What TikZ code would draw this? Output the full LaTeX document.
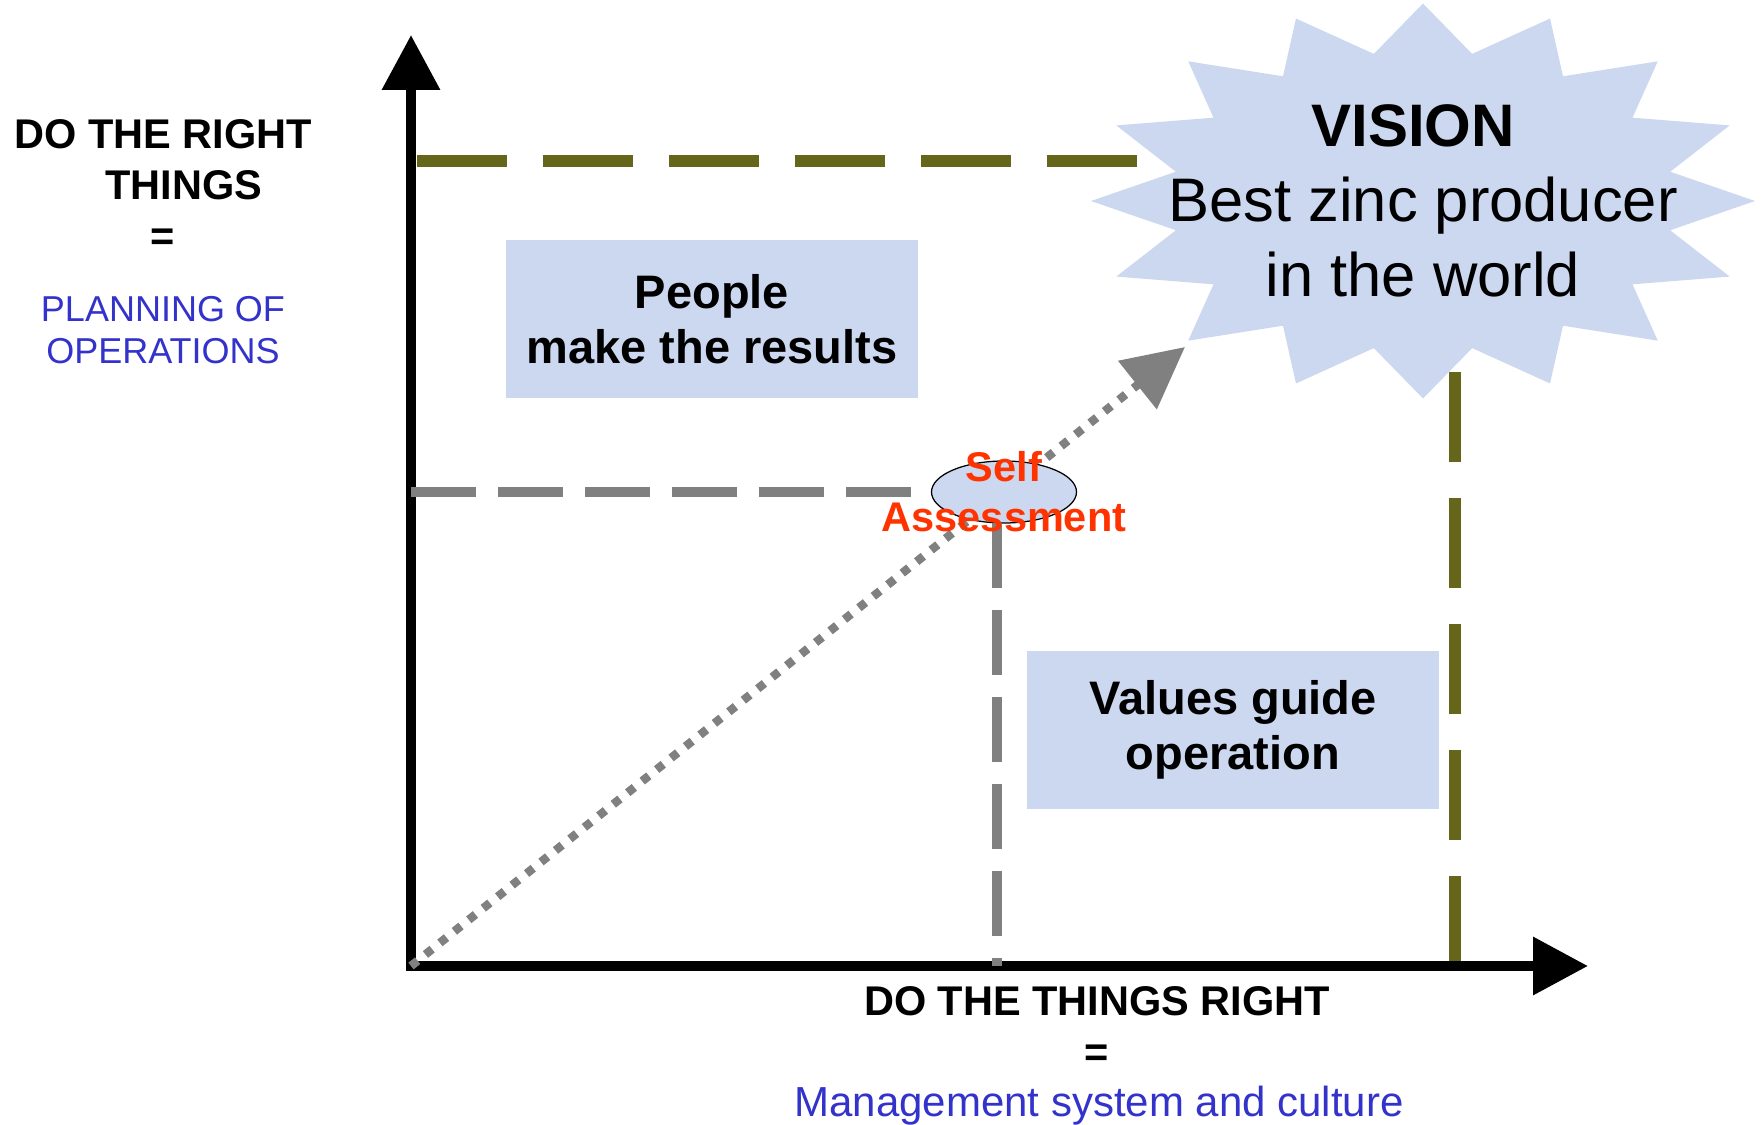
\documentclass[tikz,border=0pt]{standalone}
\usepackage{fontspec}
\setmainfont{Liberation Sans}
\usepackage{tikz}
\usetikzlibrary{arrows.meta,shapes.geometric}
\definecolor{boxblue}{RGB}{204,216,240}
\definecolor{visionolive}{RGB}{102,102,26}
\definecolor{linegray}{RGB}{128,128,128}
\definecolor{labelblue}{RGB}{51,51,204}
\definecolor{selfred}{RGB}{255,51,0}
\tikzset{x=0.4pt, y=-0.4pt, % One unit is one pixel, y counts downwards
        every node/.style={inner sep=0pt},
        fieldbox/.style={ % The two light blue text boxes
            fill=boxblue,
            minimum width=164.6pt,
            minimum height=63.4pt,
            align=center,
            font=\bfseries\fontsize{18.8}{22}\selectfont},
        axistext/.style={ % Black axis captions
            align=center,
            font=\bfseries\fontsize{16.6}{20.4}\selectfont},
        plantext/.style={ % Blue explanations under the captions
            align=center,
            text=labelblue},
        axisline/.style={
            line width=4pt,
            line join=miter,
            {Triangle[length=22pt,width=22.4pt]}-{Triangle[length=22pt,width=22.4pt]}},
        visionline/.style={ % Olive dashes that lead to the vision
            visionolive,
            line width=4.8pt,
            dash pattern=on 36pt off 14.4pt},
        selfline/.style={
            linegray,
            line width=4pt,
            dash pattern=on 26pt off 8.8pt},
        growth/.style={ % Dotted way up to the vision
            linegray,
            line width=3.4pt,
            dash pattern=on 3.4pt off 4pt,
            -{Triangle[length=24.4pt,width=24pt]}}
        }

\begin{document}
\begin{tikzpicture}
    \useasboundingbox (0,0) rectangle (1761,1125);
    \coordinate (O) at (411,966);
    \coordinate (ytip) at (411,35);
    \coordinate (xtip) at (1588,966);
    \coordinate (star) at (1423,201);
    \coordinate (ylevel) at (417,161);
    \coordinate (vdrop) at (1455,345);
    \coordinate (sadrop) at (997,523);
    \coordinate (aim) at (1185,347);

    \draw[visionline] (ylevel) -- (ylevel -| star);
    \draw[visionline] (vdrop |- O) -- (vdrop);

    \fill[boxblue, shift={(star)}] (0,197.5) \foreach \k in {0,...,15} {
        -- ({252*cos(101.25+22.5*\k)},{150*sin(101.25+22.5*\k)})
        -- ({332*cos(112.5+22.5*\k)},{197.5*sin(112.5+22.5*\k)})} -- cycle;
    \node[align=center, font=\fontsize{24.6}{30}\selectfont] (vision) at (star) {{\bfseries\fontsize{24}{30}\selectfont VISION\hspace*{8pt}}\\Best zinc producer\\in the world};

    \node[fieldbox] (people) at (712,319) {People\\make the results};
    \node[fieldbox] (values) at (1233,730) {Values guide\\operation};

    \node[axistext, anchor=north] (ylab) at (163,119) {DO THE RIGHT\\\hspace*{1em}THINGS\\=};
    \node[plantext, anchor=north, font=\fontsize{14.4}{16.8}\selectfont] (yplan) at (163,296) {PLANNING OF\\OPERATIONS};
    \node[axistext, anchor=north] (xlab) at (1097,986) {DO THE THINGS RIGHT\\=};
    \node[plantext, anchor=base, font=\fontsize{16.8}{20}\selectfont] (xplan) at (1099,1116) {Management system and culture};

    \draw[axisline] (ytip) -- (O) -- (xtip);
    \draw[growth] (O) -- (aim);

    \node[ellipse, draw, fill=boxblue, line width=0.5pt, minimum width=58pt, minimum height=24.8pt] (sa) at (1004,492) {};
    \draw[selfline] (O |- sa) -- (sa.west);
    \draw[selfline] (sadrop) -- (sadrop |- O);
    \node[align=center, text=selfred, font=\bfseries\fontsize{16.6}{20}\selectfont] (satext) at (sa) {Self\\Assessment};
\end{tikzpicture}
\end{document}
